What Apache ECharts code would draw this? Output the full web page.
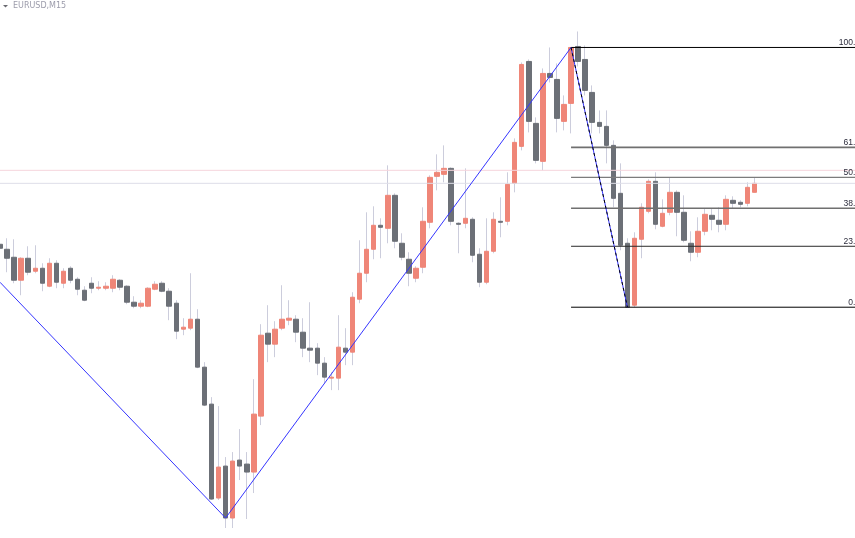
<!DOCTYPE html>
<html><head><meta charset="utf-8">
<script src="https://cdn.jsdelivr.net/npm/echarts@6/dist/echarts.min.js"></script>
<style>html,body{margin:0;padding:0;background:#fff}#c{width:855px;height:538px}</style>
</head><body><div id="c"></div>
<script>
// EURUSD M15 candles (bar index 0..107)
const opens = [1.08756,1.08751,1.08743,1.08720,1.08742,1.08729,1.08732,1.08714,1.08737,1.08717,
1.08732,1.08721,1.08710,1.08717,1.08712,1.08712,1.08712,1.08720,1.08714,1.08698,
1.08694,1.08694,1.08711,1.08717,1.08709,1.08697,1.08671,1.08672,1.08681,1.08633,
1.08596,1.08502,1.08534,1.08482,1.08540,1.08536,1.08528,1.08584,1.08667,1.08656,
1.08672,1.08680,1.08681,1.08668,1.08652,1.08652,1.08637,1.08622,1.08622,1.08652,
1.08648,1.08701,1.08727,1.08751,1.08775,1.08772,1.08805,1.08757,1.08741,1.08722,
1.08733,1.08778,1.08824,1.08826,1.08832,1.08777,1.08777,1.08781,1.08746,1.08718,
1.08749,1.08779,1.08779,1.08817,1.08854,1.08939,1.08877,1.08839,1.08927,1.08921,
1.08879,1.08897,1.08954,1.08941,1.08908,1.08878,1.08874,1.08855,1.08807,1.08757,
1.08695,1.08761,1.08789,1.08819,1.08774,1.08788,1.08808,1.08788,1.08757,1.08748,
1.08769,1.08785,1.08780,1.08776,1.08800,1.08798,1.08797,1.08808];
const closes = [1.08752,1.08742,1.08720,1.08742,1.08728,1.08732,1.08717,1.08737,1.08718,1.08729,
1.08720,1.08711,1.08700,1.08712,1.08713,1.08714,1.08721,1.08713,1.08698,1.08694,
1.08697,1.08712,1.08716,1.08709,1.08694,1.08669,1.08673,1.08681,1.08633,1.08595,
1.08501,1.08533,1.08482,1.08539,1.08534,1.08528,1.08586,1.08665,1.08656,1.08671,
1.08681,1.08682,1.08668,1.08652,1.08650,1.08637,1.08623,1.08623,1.08653,1.08648,
1.08703,1.08727,1.08751,1.08775,1.08773,1.08805,1.08759,1.08743,1.08727,1.08732,
1.08779,1.08823,1.08828,1.08832,1.08779,1.08776,1.08782,1.08745,1.08718,1.08749,
1.08781,1.08778,1.08816,1.08858,1.08936,1.08879,1.08840,1.08927,1.08923,1.08882,
1.08896,1.08953,1.08939,1.08910,1.08878,1.08874,1.08855,1.08802,1.08755,1.08693,
1.08762,1.08793,1.08819,1.08776,1.08787,1.08808,1.08788,1.08760,1.08748,1.08769,
1.08786,1.08781,1.08776,1.08801,1.08797,1.08796,1.08813,1.08817];
const highs = [1.08772,1.08762,1.08761,1.08743,1.08754,1.08755,1.08737,1.08742,1.08740,1.08732,
1.08734,1.08723,1.08714,1.08723,1.08719,1.08718,1.08725,1.08721,1.08715,1.08704,
1.08700,1.08713,1.08719,1.08719,1.08712,1.08700,1.08682,1.08727,1.08691,1.08638,
1.08603,1.08594,1.08543,1.08548,1.08571,1.08548,1.08621,1.08676,1.08695,1.08679,
1.08715,1.08700,1.08685,1.08682,1.08698,1.08657,1.08643,1.08628,1.08685,1.08672,
1.08708,1.08760,1.08788,1.08794,1.08782,1.08835,1.08807,1.08767,1.08748,1.08734,
1.08793,1.08825,1.08846,1.08855,1.08833,1.08778,1.08832,1.08783,1.08752,1.08782,
1.08788,1.08803,1.08828,1.08862,1.08938,1.08941,1.08883,1.08932,1.08953,1.08937,
1.08905,1.08953,1.08969,1.08955,1.08915,1.08890,1.08890,1.08860,1.08837,1.08762,
1.08768,1.08797,1.08821,1.08828,1.08801,1.08823,1.08810,1.08805,1.08769,1.08783,
1.08792,1.08792,1.08793,1.08805,1.08804,1.08800,1.08818,1.08823];
const lows = [1.08730,1.08728,1.08717,1.08705,1.08725,1.08727,1.08709,1.08713,1.08712,1.08712,
1.08717,1.08705,1.08699,1.08707,1.08710,1.08710,1.08708,1.08710,1.08696,1.08692,
1.08692,1.08693,1.08710,1.08708,1.08680,1.08661,1.08665,1.08670,1.08632,1.08594,
1.08500,1.08500,1.08472,1.08472,1.08520,1.08481,1.08507,1.08575,1.08638,1.08643,
1.08670,1.08675,1.08658,1.08643,1.08638,1.08625,1.08617,1.08610,1.08610,1.08635,
1.08635,1.08697,1.08718,1.08741,1.08742,1.08757,1.08752,1.08740,1.08714,1.08718,
1.08727,1.08772,1.08810,1.08818,1.08775,1.08747,1.08772,1.08738,1.08713,1.08716,
1.08747,1.08763,1.08775,1.08808,1.08850,1.08868,1.08837,1.08830,1.08918,1.08868,
1.08870,1.08867,1.08934,1.08905,1.08867,1.08867,1.08837,1.08793,1.08750,1.08693,
1.08693,1.08742,1.08787,1.08771,1.08773,1.08785,1.08764,1.08758,1.08739,1.08743,
1.08765,1.08770,1.08768,1.08770,1.08792,1.08793,1.08794,1.08808];

// ZigZag vertices: [bar index, price]
const zigzag = [[0,1.08718],[32,1.08482],[81,1.08953],[89,1.08693]];
// Fibonacci retracement (drawn from bar 81 to the right edge)
const fibStartBar = 81;
const fibLabels = ['100.0','61.8','50.0','38.2','23.6','0.0'];
const fibPrices = [1.08953,1.08853,1.08823,1.08792,1.08754,1.08693];
const fibColors = ['#000000','#707070','#7c7c7c','#707070','#2a2a2a','#000000'];
const fibWidths = [1,1.6,1.4,1.6,1,1];
// horizontal price lines
const pinkLevel = 1.08830;
const grayLevel = 1.08817;

const BULL = '#ef8678', BEAR = '#6c7077', WICK = '#cccddc';
const X_MAX = 855 / 7.05, LABEL_X = 122;

const wickData = opens.map((o,i)=>[i,o,closes[i],lows[i],highs[i]]);
const bodyData = opens.map((o,i)=>[i,o,closes[i],Math.min(o,closes[i]),Math.max(o,closes[i])]);

const series = [
  {type:'line', silent:true, symbol:'none', data:[[0,pinkLevel],[X_MAX,pinkLevel]], lineStyle:{color:'#f6d5dc',width:1}},
  {type:'line', silent:true, symbol:'none', data:[[0,grayLevel],[X_MAX,grayLevel]], lineStyle:{color:'#dedee8',width:1}},
  {type:'candlestick', data:wickData, barWidth:1,
    itemStyle:{color:WICK,color0:WICK,borderColor:WICK,borderColor0:WICK,borderWidth:1}},
  {type:'candlestick', data:bodyData, barWidth:5,
    itemStyle:{color:BULL,color0:BEAR,borderColor:BULL,borderColor0:BEAR,borderWidth:1}},
];
fibPrices.forEach((p,i)=>{
  series.push({type:'line', clip:false, silent:true, symbol:'circle', symbolSize:1,
    itemStyle:{color:'rgba(0,0,0,0)'},
    lineStyle:{color:fibColors[i], width:fibWidths[i]},
    data:[[fibStartBar,p],{value:[LABEL_X,p], label:{show:true, position:'top', align:'right', distance:0,
      formatter:fibLabels[i], color:'#2c2c3c', fontSize:8.5, fontFamily:'Liberation Sans'}}]});
});
series.push({type:'line', silent:true, symbol:'none', data:zigzag, lineStyle:{color:'#3535ff',width:1}});
series.push({type:'line', silent:true, symbol:'none', data:zigzag.slice(2), lineStyle:{color:'#000',width:1,type:[3,3]}});

const chart = echarts.init(document.getElementById('c'));
chart.setOption({
  animation:false,
  backgroundColor:'#ffffff',
  grid:{left:0,right:0,top:0.5,bottom:-0.5},
  xAxis:{type:'value', min:0, max:X_MAX, show:false, splitLine:{show:false}},
  yAxis:{type:'value', min:1.08462, max:1.09000, scale:true, show:false, splitLine:{show:false}},
  graphic:[
    {type:'polygon', shape:{points:[[3,5],[8,5],[5.5,7.5]]}, style:{fill:'#6a6a70'}},
    {type:'text', x:13, y:5.5, style:{text:'EURUSD,M15', fill:'#9c9cab', font:'8px "DejaVu Sans"', verticalAlign:'middle'}}
  ],
  series
});
</script></body></html>
